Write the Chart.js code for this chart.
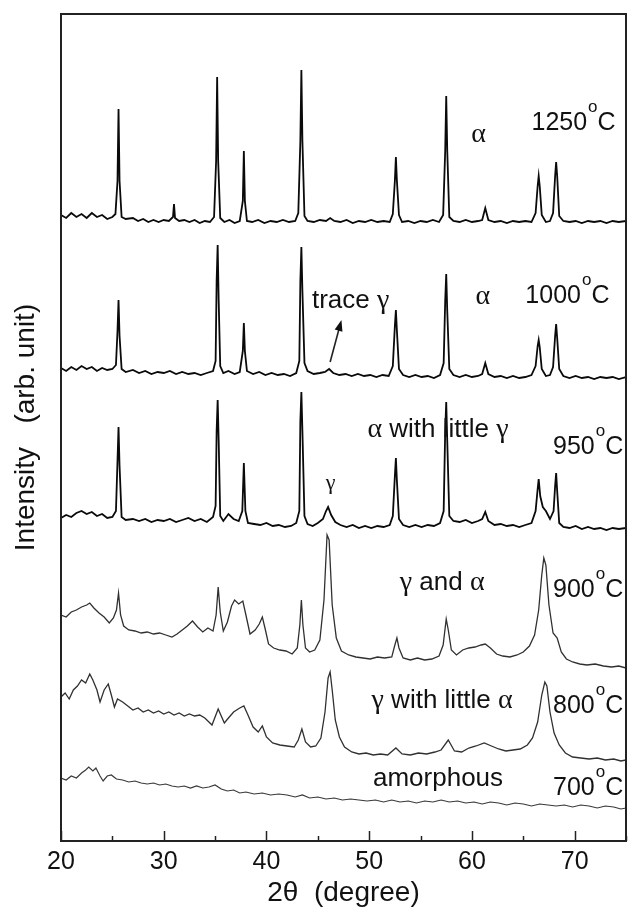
<!DOCTYPE html>
<html lang="en">
<head>
<meta charset="UTF-8">
<title>XRD patterns vs. calcination temperature</title>
<script src="https://cdn.jsdelivr.net/npm/chart.js"></script>
<style>
  body { margin: 0; background: #fff; }
  #wrap { width: 629px; height: 907px; }
</style>
</head>
<body>
<div id="wrap"><canvas id="xrdChart"></canvas></div>
<script>
// 2theta (degree) and stacked intensity (arb. unit)
const tt1250 = [
  20.0, 20.5, 21.0, 21.5, 22.0, 22.5, 23.0, 23.5, 24.0, 24.5,
  25.0, 25.3, 25.5, 25.6, 25.7, 25.9, 26.3, 27.0, 27.5, 28.0,
  28.5, 29.0, 29.5, 30.0, 30.5, 30.9, 31.0, 31.1, 31.5, 32.0,
  32.5, 33.0, 33.5, 34.0, 34.5, 34.9, 35.1, 35.2, 35.3, 35.5,
  35.9, 36.4, 36.9, 37.4, 37.7, 37.8, 37.9, 38.1, 38.6, 39.2,
  39.8, 40.4, 41.0, 41.6, 42.2, 42.8, 43.1, 43.3, 43.4, 43.5,
  43.7, 44.0, 44.6, 45.2, 45.8, 46.2, 46.6, 47.2, 47.8, 48.4,
  49.0, 49.6, 50.2, 50.8, 51.4, 52.0, 52.3, 52.5, 52.6, 52.7,
  52.9, 53.2, 53.8, 54.4, 55.0, 55.6, 56.2, 56.8, 57.2, 57.4,
  57.5, 57.6, 57.8, 58.2, 58.8, 59.4, 60.0, 60.6, 61.0, 61.3,
  61.6, 62.2, 62.8, 63.4, 64.0, 64.6, 65.2, 65.8, 66.2, 66.4,
  66.5, 66.6, 66.8, 67.2, 67.6, 67.9, 68.1, 68.2, 68.3, 68.5,
  68.9, 69.5, 70.1, 70.7, 71.3, 71.9, 72.5, 73.1, 73.7, 74.3,
  75.0
];
const int1250 = [
  626, 623, 628, 624, 627, 623, 628, 624, 626, 622,
  624, 627, 660, 732, 660, 624, 622, 623, 620, 622,
  619, 621, 619, 621, 620, 624, 637, 623, 620, 621,
  619, 621, 618, 620, 619, 624, 680, 764, 680, 623,
  619, 621, 618, 620, 640, 690, 640, 620, 619, 621,
  618, 620, 619, 621, 619, 620, 628, 700, 771, 700,
  625, 620, 619, 621, 620, 623, 620, 619, 621, 618,
  620, 619, 621, 619, 620, 619, 627, 660, 684, 660,
  626, 619, 620, 618, 620, 619, 621, 619, 626, 690,
  745, 690, 624, 620, 619, 621, 619, 620, 621, 633,
  621, 619, 620, 618, 620, 619, 620, 619, 628, 655,
  665, 655, 626, 619, 620, 628, 665, 679, 665, 625,
  620, 619, 620, 618, 620, 619, 620, 618, 620, 619,
  620
];

const tt1000 = [
  20.0, 20.5, 21.0, 21.5, 22.0, 22.5, 23.0, 23.5, 24.0, 24.5,
  25.0, 25.35, 25.5, 25.6, 25.7, 25.9, 26.3, 27.0, 27.6, 28.2,
  28.8, 29.4, 30.0, 30.6, 31.2, 31.8, 32.4, 33.0, 33.6, 34.2,
  34.8, 35.05, 35.15, 35.25, 35.35, 35.5, 35.8, 36.3, 36.9, 37.4,
  37.7, 37.8, 37.9, 38.1, 38.7, 39.3, 39.9, 40.5, 41.1, 41.7,
  42.3, 42.9, 43.2, 43.3, 43.4, 43.5, 43.7, 44.0, 44.6, 45.2,
  45.7, 46.1, 46.5, 47.1, 47.7, 48.3, 48.9, 49.5, 50.1, 50.7,
  51.3, 51.9, 52.3, 52.5, 52.6, 52.7, 52.9, 53.3, 53.9, 54.5,
  55.1, 55.7, 56.3, 56.9, 57.25, 57.4, 57.5, 57.6, 57.8, 58.2,
  58.8, 59.4, 60.0, 60.6, 61.0, 61.3, 61.6, 62.2, 62.8, 63.4,
  64.0, 64.6, 65.2, 65.8, 66.2, 66.4, 66.5, 66.6, 66.8, 67.2,
  67.6, 67.9, 68.1, 68.2, 68.3, 68.5, 68.9, 69.5, 70.1, 70.7,
  71.3, 71.9, 72.5, 73.1, 73.7, 74.3, 75.0
];
const int1000 = [
  473, 470, 474, 471, 475, 472, 474, 470, 473, 471,
  472, 476, 510, 541, 505, 472, 469, 471, 468, 470,
  467, 469, 468, 470, 467, 469, 467, 468, 466, 468,
  470, 480, 560, 596, 540, 475, 468, 470, 467, 469,
  490, 518, 490, 470, 467, 469, 466, 468, 466, 467,
  465, 468, 480, 560, 594, 550, 478, 470, 467, 468,
  469, 472, 468, 466, 467, 465, 467, 465, 466, 464,
  466, 465, 475, 515, 531, 510, 472, 466, 464, 466,
  464, 465, 463, 466, 478, 540, 567, 530, 472, 466,
  464, 466, 464, 465, 467, 478, 467, 464, 465, 463,
  465, 463, 464, 466, 475, 495, 501, 494, 472, 465,
  466, 474, 505, 517, 503, 472, 465, 463, 465, 463,
  464, 462, 464, 463, 464, 462, 464
];

const tt950 = [
  20.0, 20.5, 21.0, 21.5, 22.0, 22.5, 23.0, 23.5, 24.0, 24.5,
  25.0, 25.35, 25.5, 25.6, 25.7, 25.9, 26.3, 27.0, 27.6, 28.2,
  28.8, 29.4, 30.0, 30.6, 31.2, 31.8, 32.4, 33.0, 33.6, 34.2,
  34.8, 35.05, 35.15, 35.25, 35.35, 35.5, 35.8, 36.3, 36.8, 37.3,
  37.65, 37.8, 37.95, 38.2, 38.8, 39.4, 40.0, 40.6, 41.2, 41.8,
  42.4, 42.9, 43.2, 43.3, 43.4, 43.5, 43.7, 44.0, 44.5, 45.0,
  45.5, 45.8, 46.0, 46.3, 46.7, 47.2, 47.8, 48.4, 49.0, 49.6,
  50.2, 50.8, 51.4, 52.0, 52.3, 52.5, 52.6, 52.7, 52.9, 53.3,
  53.9, 54.5, 55.1, 55.7, 56.3, 56.9, 57.25, 57.4, 57.5, 57.6,
  57.8, 58.2, 58.8, 59.4, 60.0, 60.6, 61.0, 61.3, 61.6, 62.2,
  62.8, 63.4, 64.0, 64.6, 65.2, 65.8, 66.2, 66.4, 66.5, 66.65,
  66.9, 67.2, 67.6, 67.95, 68.1, 68.2, 68.3, 68.5, 68.9, 69.5,
  70.1, 70.7, 71.3, 71.9, 72.5, 73.1, 73.7, 74.3, 75.0
];
const int950 = [
  323, 326, 324, 328, 330, 327, 329, 325, 327, 323,
  324, 330, 380, 414, 375, 324, 321, 322, 320, 322,
  319, 321, 320, 322, 319, 321, 323, 320, 322, 319,
  324, 335, 410, 441, 400, 325, 320, 327, 322, 320,
  330, 378, 330, 318, 317, 316, 318, 315, 316, 314,
  315, 318, 330, 420, 449, 410, 325, 317, 315, 318,
  322, 330, 334, 326, 319, 316, 314, 316, 313, 315,
  313, 315, 314, 316, 325, 365, 383, 360, 322, 316,
  314, 316, 314, 316, 315, 318, 330, 410, 439, 400,
  325, 320, 319, 321, 318, 320, 322, 329, 320, 316,
  317, 315, 316, 314, 316, 318, 330, 352, 362, 345,
  334, 330, 322, 330, 355, 368, 350, 318, 314, 313,
  315, 312, 314, 312, 313, 311, 313, 312, 313
];

const tt900 = [
  20.0, 20.5, 21.0, 21.5, 22.0, 22.5, 22.8, 23.2, 23.7, 24.2,
  24.7, 25.1, 25.4, 25.6, 25.8, 26.1, 26.6, 27.2, 27.8, 28.4,
  29.0, 29.6, 30.2, 30.8, 31.3, 31.8, 32.3, 32.8, 33.3, 33.8,
  34.3, 34.8, 35.1, 35.3, 35.5, 35.8, 36.2, 36.6, 36.9, 37.3,
  37.7, 38.0, 38.4, 38.9, 39.3, 39.6, 39.9, 40.2, 40.7, 41.3,
  41.9, 42.5, 43.0, 43.25, 43.4, 43.55, 43.8, 44.2, 44.7, 45.2,
  45.6, 45.9, 46.1, 46.4, 46.8, 47.3, 48.0, 48.7, 49.4, 50.1,
  50.8, 51.5, 52.2, 52.5, 52.7, 52.9, 53.3, 54.0, 54.7, 55.4,
  56.1, 56.8, 57.2, 57.5, 57.7, 58.0, 58.5, 59.1, 59.7, 60.3,
  60.9, 61.3, 61.8, 62.4, 63.0, 63.7, 64.4, 65.0, 65.6, 66.1,
  66.5, 66.8, 67.0, 67.2, 67.5, 67.9, 68.3, 68.7, 69.2, 69.8,
  70.5, 71.2, 72.0, 72.8, 73.6, 74.3, 75.0
];
const int900 = [
  226, 224, 229, 231, 234, 236, 238, 233, 228, 224,
  218, 223, 231, 248, 226, 215, 211, 210, 208, 209,
  207, 208, 206, 204, 207, 211, 215, 220, 214, 209,
  213, 210, 226, 254, 229, 210, 219, 235, 241, 237,
  240, 226, 207, 211, 217, 224, 211, 197, 193, 191,
  190, 187, 193, 216, 241, 216, 193, 189, 191, 201,
  241, 306, 301, 236, 203, 190, 186, 184, 183, 182,
  184, 183, 184, 196, 203, 193, 183, 181, 183, 181,
  182, 185, 196, 222, 211, 191, 186, 191, 193, 194,
  196, 197, 193, 187, 185, 184, 186, 189, 195, 206,
  231, 266, 283, 276, 236, 208, 203, 189, 182, 179,
  177, 176, 177, 175, 174, 175, 173
];

const tt800 = [
  20.0, 20.4, 20.8, 21.2, 21.6, 22.0, 22.4, 22.8, 23.1, 23.5,
  23.8, 24.2, 24.6, 24.9, 25.2, 25.5, 26.0, 26.5, 27.0, 27.5,
  28.0, 28.5, 29.0, 29.5, 30.0, 30.5, 31.0, 31.5, 32.0, 32.5,
  33.0, 33.5, 34.0, 34.7, 35.3, 35.9, 36.3, 36.8, 37.4, 37.8,
  38.2, 38.7, 39.2, 39.6, 40.0, 40.6, 41.3, 42.0, 42.7, 43.1,
  43.45, 43.8, 44.3, 44.8, 45.3, 45.7, 46.0, 46.2, 46.4, 46.7,
  47.1, 47.6, 48.3, 49.0, 49.7, 50.4, 51.1, 51.8, 52.6, 53.2,
  54.0, 54.8, 55.6, 56.4, 57.0, 57.7, 58.3, 59.0, 59.7, 60.4,
  61.2, 61.9, 62.6, 63.3, 64.0, 64.7, 65.4, 65.9, 66.4, 66.8,
  67.1, 67.3, 67.6, 68.0, 68.5, 69.1, 69.8, 70.6, 71.4, 72.2,
  73.0, 73.8, 74.5, 75.0
];
const int800 = [
  144, 148, 142, 151, 155, 161, 158, 167, 161, 151,
  139, 151, 157, 146, 134, 142, 139, 135, 131, 133,
  129, 131, 128, 130, 127, 129, 126, 128, 125, 127,
  125, 126, 123, 116, 132, 118, 123, 129, 133, 135,
  126, 114, 109, 115, 104, 98, 96, 95, 94, 101,
  112, 99, 94, 95, 103, 129, 163, 169, 151, 121,
  104, 94, 89, 87, 88, 86, 87, 86, 93, 87,
  86, 88, 87, 89, 91, 101, 90, 89, 93, 95,
  98, 95, 92, 90, 91, 92, 96, 103, 119, 146,
  159, 155, 129, 108, 96, 88, 84, 83, 82, 83,
  81, 82, 80, 81
];

const tt700 = [
  20.0, 20.5, 21.0, 21.5, 22.0, 22.4, 22.7, 23.1, 23.4, 23.8,
  24.1, 24.5, 24.9, 25.4, 26.0, 26.6, 27.2, 27.8, 28.4, 29.0,
  29.6, 30.2, 30.8, 31.4, 32.0, 32.6, 33.2, 33.8, 34.4, 35.0,
  35.6, 36.2, 36.8, 37.4, 38.0, 38.8, 39.6, 40.4, 41.2, 42.0,
  42.8, 43.5, 44.2, 45.0, 45.8, 46.6, 47.4, 48.2, 49.0, 49.8,
  50.6, 51.4, 52.2, 53.0, 53.8, 54.6, 55.4, 56.2, 57.0, 57.8,
  58.6, 59.4, 60.2, 61.0, 61.8, 62.6, 63.4, 64.2, 65.0, 65.8,
  66.6, 67.4, 68.2, 69.0, 69.8, 70.6, 71.4, 72.2, 73.0, 73.8,
  74.5, 75.0
];
const int700 = [
  63, 61, 65, 63, 68, 71, 74, 70, 73, 65,
  60, 65, 66, 62, 61, 59, 60, 58, 57, 58,
  56, 57, 55, 54, 55, 53, 55, 53, 54, 56,
  52, 50, 51, 48, 49, 47, 48, 46, 47, 46,
  44, 46, 43, 44, 42, 43, 41, 42, 41, 40,
  41, 39, 41, 39, 40, 38, 40, 39, 41, 39,
  40, 38, 39, 37, 39, 38, 36, 38, 37, 35,
  37, 36, 35, 36, 34, 36, 35, 33, 35, 34,
  32, 33
];

// temperature of each pattern and where its label sits (2theta, intensity)
const temps   = ['1250', '1000', '950', '900', '800', '700'];
const tempPos = [[65.8, 711], [65.2, 538], [67.9, 387], [67.9, 244], [67.9, 128], [67.9, 46]];

// phase notes: text pieces (s = latin, g = greek) and centre position
const phaseNotes = [
  { runs: [['α', 'g']], at: [60.65, 699] },
  { runs: [['α', 'g']], at: [61.07, 537] },
  { runs: [['trace ', 's'], ['γ', 'g']], at: [48.2, 533] },
  { runs: [['α', 'g'], [' with little ', 's'], ['γ', 'g']], at: [56.7, 404] },
  { runs: [['γ', 'gs']], at: [46.25, 352] },
  { runs: [['γ', 'g'], [' and ', 's'], ['α', 'g']], at: [57.1, 251] },
  { runs: [['γ', 'g'], [' with little ', 's'], ['α', 'g']], at: [57.1, 133] },
  { runs: [['amorphous', 's']], at: [56.7, 55] }
];
const traceArrow = [[46.2, 479], [47.3, 521]];

const sans = '"Liberation Sans", Arial, sans-serif';
const serif = '"Liberation Serif", "Times New Roman", serif';
const runFont = { s: '26px ' + sans, g: '28px ' + serif, gs: '22px ' + serif };

function pts(xs, ys) { return xs.map((v, i) => ({ x: v, y: ys[i] })); }

const series = [
  [tt1250, int1250, '#0a0a0a', 1.8],
  [tt1000, int1000, '#0a0a0a', 1.8],
  [tt950, int950, '#0a0a0a', 1.8],
  [tt900, int900, '#303030', 1.3],
  [tt800, int800, '#303030', 1.3],
  [tt700, int700, '#383838', 1.2]
];

const annotate = {
  id: 'annotate',
  afterDatasetsDraw(chart) {
    const { ctx, chartArea: a, scales: { x, y } } = chart;
    ctx.save();
    ctx.strokeStyle = '#222';
    ctx.fillStyle = '#111';
    // inward ticks on the bottom axis
    ctx.lineWidth = 1.5;
    x.ticks.forEach(t => {
      const px = Math.round(x.getPixelForValue(t.value)) + 0.5;
      const len = t.value % 10 === 0 ? 10 : 5;
      ctx.beginPath();
      ctx.moveTo(px, a.bottom);
      ctx.lineTo(px, a.bottom - len);
      ctx.stroke();
    });
    // frame
    ctx.lineWidth = 2;
    ctx.strokeRect(a.left, a.top, a.right - a.left, a.bottom - a.top);

    // temperature labels
    ctx.textBaseline = 'alphabetic';
    ctx.textAlign = 'left';
    temps.forEach((t, i) => {
      let px = x.getPixelForValue(tempPos[i][0]);
      const py = y.getPixelForValue(tempPos[i][1]);
      ctx.font = '25px ' + sans;
      ctx.fillText(t, px, py);
      px += ctx.measureText(t).width + 1;
      ctx.font = '17px ' + sans;
      ctx.fillText('o', px, py - 18);
      px += ctx.measureText('o').width;
      ctx.font = '25px ' + sans;
      ctx.fillText('C', px, py);
    });

    // phase notes
    phaseNotes.forEach(n => {
      let w = 0;
      n.runs.forEach(r => { ctx.font = runFont[r[1]]; w += ctx.measureText(r[0]).width; });
      let px = x.getPixelForValue(n.at[0]) - w / 2;
      const py = y.getPixelForValue(n.at[1]);
      n.runs.forEach(r => {
        ctx.font = runFont[r[1]];
        ctx.fillText(r[0], px, py);
        px += ctx.measureText(r[0]).width;
      });
    });

    // arrow pointing at the trace gamma peak
    const x0 = x.getPixelForValue(traceArrow[0][0]), y0 = y.getPixelForValue(traceArrow[0][1]);
    const x1 = x.getPixelForValue(traceArrow[1][0]), y1 = y.getPixelForValue(traceArrow[1][1]);
    const ang = Math.atan2(y1 - y0, x1 - x0);
    ctx.lineWidth = 1.6;
    ctx.beginPath();
    ctx.moveTo(x0, y0);
    ctx.lineTo(x1 - 6 * Math.cos(ang), y1 - 6 * Math.sin(ang));
    ctx.stroke();
    ctx.beginPath();
    ctx.moveTo(x1, y1);
    ctx.lineTo(x1 - 11 * Math.cos(ang) + 4 * Math.sin(ang), y1 - 11 * Math.sin(ang) - 4 * Math.cos(ang));
    ctx.lineTo(x1 - 11 * Math.cos(ang) - 4 * Math.sin(ang), y1 - 11 * Math.sin(ang) + 4 * Math.cos(ang));
    ctx.closePath();
    ctx.fill();
    ctx.restore();
  }
};

const ctx = document.getElementById('xrdChart').getContext('2d');
new Chart(ctx, {
  type: 'line',
  data: {
    datasets: series.map((s, i) => ({
      label: temps[i] + ' °C',
      data: pts(s[0], s[1]),
      borderColor: s[2],
      borderWidth: s[3],
      pointRadius: 0,
      tension: 0,
      fill: false
    }))
  },
  options: {
    responsive: true,
    maintainAspectRatio: false,
    animation: false,
    layout: { padding: { top: 14, right: 3, left: 0, bottom: 0 } },
    plugins: { legend: { display: false }, tooltip: { enabled: false } },
    scales: {
      x: {
        type: 'linear',
        min: 20,
        max: 75,
        grid: { display: false },
        border: { display: false },
        ticks: {
          stepSize: 5,
          autoSkip: false,
          maxRotation: 0,
          padding: 1,
          color: '#111',
          font: { family: sans, size: 25, lineHeight: 1 },
          callback: v => (v % 10 === 0 ? v : '')
        },
        title: {
          display: true,
          text: '2θ  (degree)',
          color: '#111',
          font: { family: sans, size: 28, lineHeight: 1 },
          padding: { top: 0, bottom: 0 }
        },
        afterFit(s) { s.height = 66; }
      },
      y: {
        min: 0,
        max: 827,
        grid: { display: false },
        border: { display: false },
        ticks: { display: false },
        title: {
          display: true,
          text: 'Intensity   (arb. unit)',
          color: '#111',
          font: { family: sans, size: 28, lineHeight: 1 },
          padding: { top: 12, bottom: 0 }
        },
        afterFit(s) { s.width = 61; }
      }
    }
  },
  plugins: [annotate]
});
</script>
</body>
</html>
